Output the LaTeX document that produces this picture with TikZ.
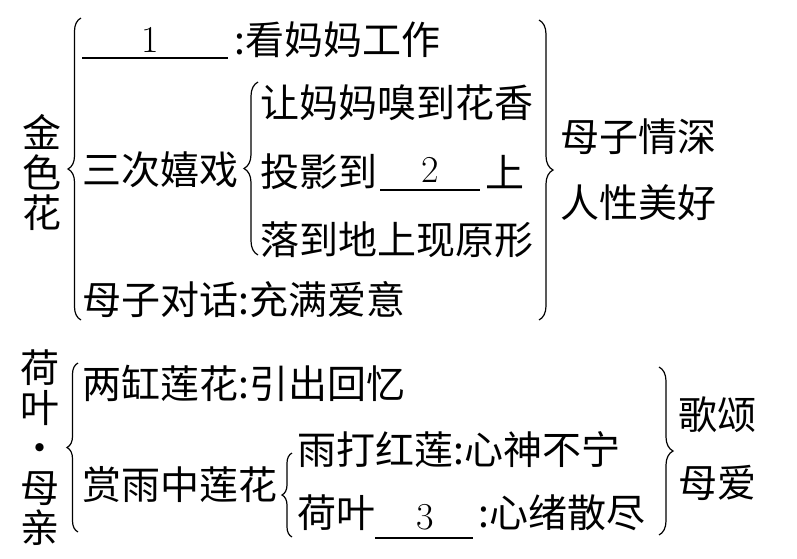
\documentclass[tikz,border=0pt]{standalone}
\usepackage{fontspec}
\newfontfamily\cjk{Noto Sans CJK SC}
\usetikzlibrary{decorations.pathreplacing}

\begin{document}
\begin{tikzpicture}[x=0.5pt, y=-0.5pt,
  txt/.style={anchor=west, inner sep=0pt, font=\cjk\fontsize{19.5}{20}\selectfont},
  vtxt/.style={align=center, inner sep=0pt, font=\cjk\fontsize{19.5}{20}\selectfont},
  num/.style={inner sep=0pt, font=\fontsize{19}{20}\selectfont},
  brc/.style={decorate, decoration={brace, amplitude=#1}, line width=0.6pt},
  blank/.style={line width=0.6pt}]
  \useasboundingbox (0,0) rectangle (797,558);

  % upper part
  \node[vtxt] (jinse) at (42,172) {金\\色\\花};
  \draw[brc=6.5pt] (81,320) -- (81,18);

  \draw[blank] (82,58) -- (228,58);
  \node[num] (n1) at (150,40) {1};
  \node[txt] (kan) at (234,40) {:看妈妈工作};

  \node[txt] (sanci) at (82,170) {三次嬉戏};
  \draw[brc=7pt] (258,255) -- (258,82);
  \node[txt] (rang) at (260,103) {让妈妈嗅到花香};
  \node[txt] (touying) at (260,172) {投影到};
  \draw[blank] (380,190) -- (480,190);
  \node[num] (n2) at (430,170) {2};
  \node[txt] (shang) at (485,172) {上};
  \node[txt] (luo) at (260,240) {落到地上现原形};

  \node[txt] (duihua) at (82,300) {母子对话:充满爱意};

  \draw[brc=7pt] (539,20) -- (539,320);
  \node[txt] (qingshen) at (560,137) {母子情深};
  \node[txt] (renxing) at (560,203) {人性美好};

  % lower part
  \node[vtxt] (heye) at (40,448) {荷\\叶\\•\\母\\亲};
  \draw[brc=5.5pt] (78,532) -- (78,363);

  \node[txt] (ganglian) at (82,383) {两缸莲花:引出回忆};
  \node[txt] (shangyu) at (82,485) {赏雨中莲花};
  \draw[brc=5pt] (292,537) -- (292,453);
  \node[txt] (yuda) at (297,450) {雨打红莲:心神不宁};
  \node[txt] (heye2) at (297,513) {荷叶};
  \draw[blank] (375,538) -- (473,538);
  \node[num] (n3) at (425,517) {3};
  \node[txt] (xinxu) at (478,513) {:心绪散尽};

  \draw[brc=7pt] (659,367) -- (659,535);
  \node[txt] (gesong) at (678,415) {歌颂};
  \node[txt] (muai) at (678,483) {母爱};
\end{tikzpicture}
\end{document}
